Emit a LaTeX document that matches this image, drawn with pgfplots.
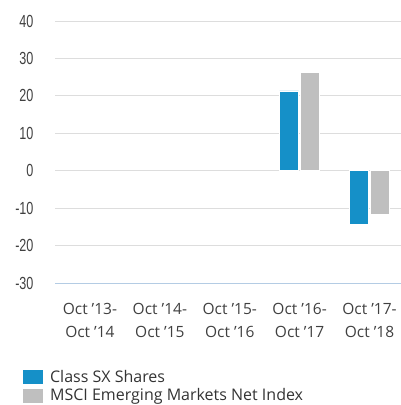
\documentclass[border=0pt]{standalone}
\usepackage{pgfplots}
\pgfplotsset{compat=1.18}
\usepackage{fontspec}
\setmainfont{Open Sans}
\newfontfamily\condfont[FakeStretch=0.72]{Liberation Sans}
\definecolor{cblue}{HTML}{1590C8}
\definecolor{cgray}{HTML}{BFBFBF}
\definecolor{cgrid}{HTML}{DDDDDD}
\definecolor{cline}{HTML}{B4CCE4}
\begin{document}
\begin{tikzpicture}
\useasboundingbox (0,0) rectangle (401pt,405pt);
\begin{axis}[
  at={(55pt,122pt)}, anchor=south west,
  scale only axis, width=346pt, height=262pt,
  ymin=-30, ymax=40, ytick={-30,-20,...,40},
  xmin=-0.5, xmax=4.45,
  xtick={0,1,2,3,4},
  xticklabels={{Oct '13-\\Oct '14},{Oct '14-\\Oct '15},{Oct '15-\\Oct '16},{Oct '16-\\Oct '17},{Oct '17-\\Oct '18}},
  xticklabel style={align=center, font=\fontsize{15.5}{23}\selectfont\color{black!75}, yshift=-17pt},
  yticklabel style={font=\condfont\fontsize{17.5}{20}\selectfont\color{black!75}, xshift=-18pt},
  /pgf/number format/assume math mode=true,
  axis y line*=left,
  y axis line style={draw=none},
  axis x line*=bottom,
  x axis line style={color=cline, line width=0.8pt, -},
  major tick length=0pt,
  ymajorgrids, grid style={cgrid, line width=0.9pt},
  ybar, bar width=19pt,
  legend style={at={(-0.095,-0.324)}, anchor=north west, draw=none, fill=none, inner sep=0pt,
    font=\fontsize{16}{17}\selectfont\color{black!80}, row sep=1pt,
    legend cell align=left},
  legend image code/.code={\fill[#1] (0pt,-7.5pt) rectangle (21pt,7.5pt); \path (25pt,0pt);},
]
\addplot[fill=cblue, draw=white, line width=0.8pt, bar shift=-10.5pt] coordinates {(3,21.3) (4,-14.4)};
\addplot[fill=cgray, draw=white, line width=0.8pt, bar shift=10.5pt] coordinates {(3,26.3) (4,-11.7)};
\legend{Class SX Shares, MSCI Emerging Markets Net Index}
\end{axis}
\end{tikzpicture}
\end{document}
